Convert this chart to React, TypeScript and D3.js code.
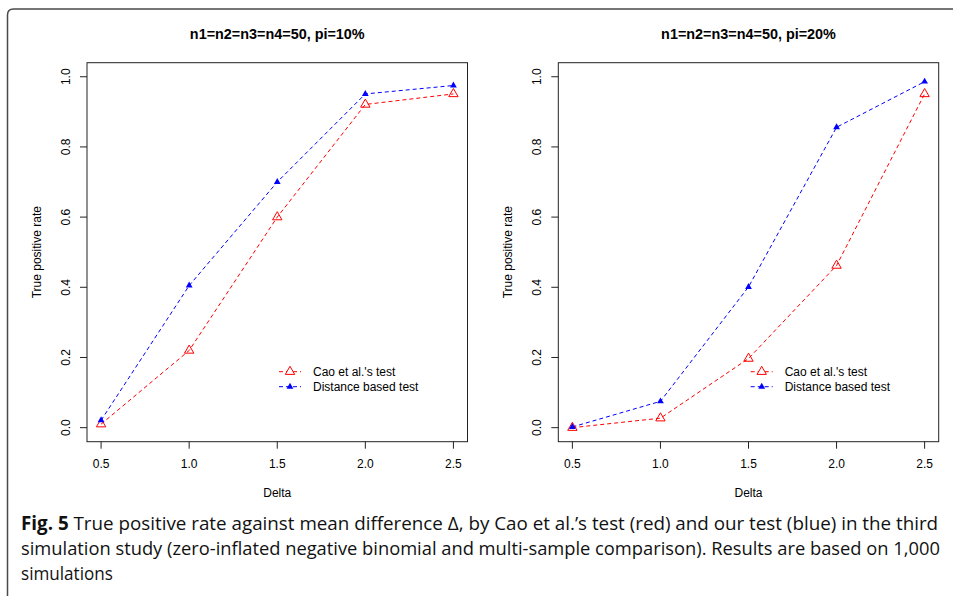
import * as d3 from "d3";

// x values (Delta)
const deltas = [0.5, 1.0, 1.5, 2.0, 2.5];
const xTicks = [0.5, 1.0, 1.5, 2.0, 2.5];
const yTicks = [0.0, 0.2, 0.4, 0.6, 0.8, 1.0];

// pi = 10%
const cao10 = [0.01, 0.22, 0.6, 0.921, 0.951];
const dist10 = [0.021, 0.405, 0.7, 0.951, 0.975];

// pi = 20%
const cao20 = [0.0, 0.027, 0.197, 0.462, 0.951];
const dist20 = [0.002, 0.075, 0.401, 0.856, 0.986];

const seriesNames = ["Cao et al.'s test", "Distance based test"];
const titles = ["n1=n2=n3=n4=50, pi=10%", "n1=n2=n3=n4=50, pi=20%"];

const FONT = "Liberation Sans, Arial, Helvetica, sans-serif";
const RED = "#ff0000";
const BLUE = "#0000ff";

const top = 62.7;
const bottom = 441.7;

const triOpen = d3.symbol(d3.symbolTriangle, 38)();
const triFilled = d3.symbol(d3.symbolTriangle, 20)();

type PanelProps = {
  left: number;
  right: number;
  title: string;
  cao: number[];
  dist: number[];
  legendX: number;
};

const Panel = ({ left, right, title, cao, dist, legendX }: PanelProps) => {
  const x = d3.scaleLinear().domain([0.42, 2.58]).range([left, right]);
  const y = d3.scaleLinear().domain([-0.04, 1.04]).range([bottom, top]);

  const line = d3
    .line<number>()
    .x((_, i) => x(deltas[i]))
    .y((d) => y(d));

  const mid = (left + right) / 2;
  const legendY = [371.7, 386.7];

  return (
    <g fontFamily={FONT}>
      <text x={mid} y={38.5} textAnchor="middle" fontWeight="bold" fontSize={14.4}>
        {title}
      </text>
      <rect
        x={left}
        y={top}
        width={right - left}
        height={bottom - top}
        fill="none"
        stroke="#222"
        strokeWidth={1}
      />
      {/* x axis */}
      {xTicks.map((t, i) => (
        <g key={i}>
          <line x1={x(t)} x2={x(t)} y1={bottom} y2={bottom + 7} stroke="#222" />
          <text x={x(t)} y={467.5} textAnchor="middle" fontSize={12}>
            {t.toFixed(1)}
          </text>
        </g>
      ))}
      <text x={mid} y={497} textAnchor="middle" fontSize={12}>
        Delta
      </text>
      {/* y axis */}
      {yTicks.map((t, i) => (
        <g key={i}>
          <line x1={left - 7} x2={left} y1={y(t)} y2={y(t)} stroke="#222" />
          <text
            transform={`translate(${left - 17.5},${y(t)}) rotate(-90)`}
            textAnchor="middle"
            fontSize={12}
          >
            {t.toFixed(1)}
          </text>
        </g>
      ))}
      <text
        transform={`translate(${left - 46},${(top + bottom) / 2}) rotate(-90)`}
        textAnchor="middle"
        fontSize={12}
      >
        True positive rate
      </text>
      {/* lines */}
      <path d={line(cao) ?? ""} fill="none" stroke={RED} strokeDasharray="4,3" />
      <path d={line(dist) ?? ""} fill="none" stroke={BLUE} strokeDasharray="4,3" />
      {cao.map((v, i) => (
        <path
          key={`c${i}`}
          d={triOpen}
          transform={`translate(${x(deltas[i])},${y(v)})`}
          fill="none"
          stroke={RED}
          strokeWidth={1}
        />
      ))}
      {dist.map((v, i) => (
        <path
          key={`d${i}`}
          d={triFilled}
          transform={`translate(${x(deltas[i])},${y(v)})`}
          fill={BLUE}
        />
      ))}
      {/* legend */}
      {seriesNames.map((name, i) => (
        <g key={name} transform={`translate(${legendX},${legendY[i]})`}>
          <line x1={0} x2={22} y1={0} y2={0} stroke={i === 0 ? RED : BLUE} strokeDasharray="4,3" />
          {i === 0 ? (
            <path d={triOpen} transform="translate(11,0)" fill="white" stroke={RED} />
          ) : (
            <path d={triFilled} transform="translate(11,0)" fill={BLUE} />
          )}
          <text x={34} y={4.3} fontSize={12}>
            {name}
          </text>
        </g>
      ))}
    </g>
  );
};

export default function App() {
  return (
    <svg
      width={953}
      height={596}
      style={{ position: "absolute", left: 0, top: 0, background: "white" }}
    >
      <path
        d="M7.5,602 V15 Q7.5,9 13.5,9 H960"
        fill="none"
        stroke="#4a4a4a"
        strokeWidth={1.5}
      />
      <Panel left={87} right={467.5} title={titles[0]} cao={cao10} dist={dist10} legendX={279} />
      <Panel left={558.3} right={938.7} title={titles[1]} cao={cao20} dist={dist20} legendX={750.7} />
      <g
        transform="translate(21,0) scale(0.9,1)"
        fontFamily="Open Sans, sans-serif"
        fontSize={19}
        fill="#111"
      >
        <text x={0} y={530} textLength={1019} lengthAdjust="spacingAndGlyphs">
          <tspan fontWeight="bold">Fig. 5</tspan>
          <tspan>{"  True positive rate against mean difference \u0394, by Cao et al.\u2019s test (red) and our test (blue) in the third"}</tspan>
        </text>
        <text x={0} y={555} textLength={1021} lengthAdjust="spacingAndGlyphs">
          simulation study (zero-inflated negative binomial and multi-sample comparison). Results are based on 1,000
        </text>
        <text x={0} y={580}>
          simulations
        </text>
      </g>
    </svg>
  );
}
